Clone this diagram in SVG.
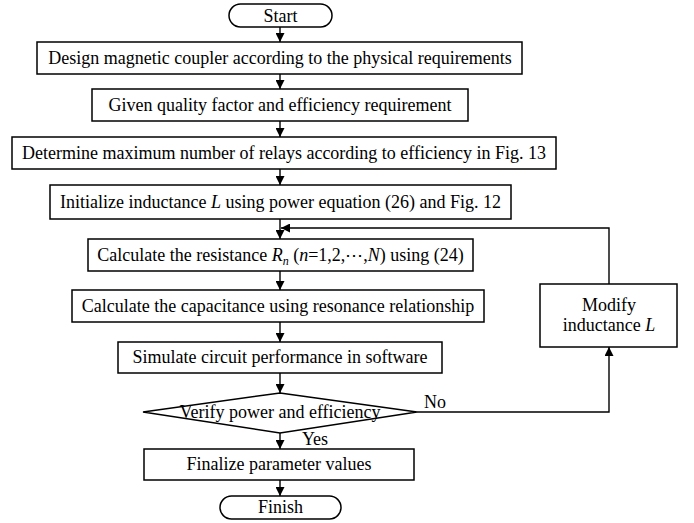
<svg xmlns="http://www.w3.org/2000/svg" width="694" height="523" viewBox="0 0 694 523">
<defs>
<marker id="ah" viewBox="0 0 10 10" refX="10" refY="5" markerWidth="9" markerHeight="9" markerUnits="userSpaceOnUse" orient="auto">
<path d="M0,0 L10,5 L0,10 z" fill="#000"/>
</marker>
<style>
.b{fill:#fff;stroke:#000;stroke-width:1.5}
.t{font-family:"Liberation Serif","Times New Roman",serif;font-size:18px;fill:#000;text-anchor:middle}
.c{fill:none;stroke:#000;stroke-width:1.4}
.i{font-style:italic}
</style>
</defs>
<rect width="694" height="523" fill="#fff"/>
<g id="connectors">
<line class="c" x1="280" y1="27" x2="280" y2="42" marker-end="url(#ah)"/>
<line class="c" x1="280" y1="74" x2="280" y2="89" marker-end="url(#ah)"/>
<line class="c" x1="280" y1="121" x2="280" y2="137" marker-end="url(#ah)"/>
<line class="c" x1="280" y1="169" x2="280" y2="185" marker-end="url(#ah)"/>
<line class="c" x1="280" y1="219" x2="280" y2="239" marker-end="url(#ah)"/>
<line class="c" x1="280" y1="271" x2="280" y2="290" marker-end="url(#ah)"/>
<line class="c" x1="280" y1="322" x2="280" y2="342" marker-end="url(#ah)"/>
<line class="c" x1="280" y1="373" x2="280" y2="393" marker-end="url(#ah)"/>
<line class="c" x1="280" y1="433" x2="280" y2="449" marker-end="url(#ah)"/>
<line class="c" x1="280" y1="480" x2="280" y2="496" marker-end="url(#ah)"/>
<polyline class="c" points="417,412 609,412 609,347" marker-end="url(#ah)"/>
<polyline class="c" points="609,284 609,228 281,228" marker-end="url(#ah)"/>
<text class="t" x="435" y="408">No</text>
<text class="t" x="315" y="445">Yes</text>
</g>
<g id="start">
<rect class="b" x="229" y="4" width="103" height="23" rx="11.5"/>
<text class="t" x="280.5" y="21.5">Start</text>
</g>
<g id="design">
<rect class="b" x="37" y="42" width="485" height="32"/>
<text class="t" x="280" y="64">Design magnetic coupler according to the physical requirements</text>
</g>
<g id="given">
<rect class="b" x="92" y="89" width="376" height="32"/>
<text class="t" x="280" y="111">Given quality factor and efficiency requirement</text>
</g>
<g id="determine">
<rect class="b" x="12" y="137" width="544" height="32"/>
<text class="t" x="284" y="159">Determine maximum number of relays according to efficiency in Fig. 13</text>
</g>
<g id="initialize">
<rect class="b" x="50" y="185" width="461" height="34"/>
<text class="t" x="280.5" y="208">Initialize inductance <tspan class="i">L</tspan> using power equation (26) and Fig. 12</text>
</g>
<g id="resistance">
<rect class="b" x="88" y="239" width="385" height="32"/>
<text class="t" x="280.5" y="261">Calculate the resistance <tspan class="i">R</tspan><tspan class="i" font-size="12" dy="4">n</tspan><tspan dy="-4"> (</tspan><tspan class="i">n</tspan>=1,2,⋯,<tspan class="i">N</tspan>) using (24)</text>
</g>
<g id="capacitance">
<rect class="b" x="72" y="290" width="412" height="32"/>
<text class="t" x="278" y="312">Calculate the capacitance using resonance relationship</text>
</g>
<g id="simulate">
<rect class="b" x="118" y="342" width="324" height="31"/>
<text class="t" x="280" y="363">Simulate circuit performance in software</text>
</g>
<g id="verify">
<polygon class="b" points="280,393 417,412 280,433 143,412"/>
<text class="t" x="280" y="418">Verify power and efficiency</text>
</g>
<g id="finalize">
<rect class="b" x="144" y="449" width="270" height="31"/>
<text class="t" x="279" y="470">Finalize parameter values</text>
</g>
<g id="finish">
<rect class="b" x="220" y="496" width="121" height="23" rx="11.5"/>
<text class="t" x="280.5" y="513">Finish</text>
</g>
<g id="modify">
<rect class="b" x="540" y="284" width="137" height="63"/>
<text class="t" x="609" y="311">Modify</text>
<text class="t" x="609" y="331">inductance <tspan class="i">L</tspan></text>
</g>
</svg>
